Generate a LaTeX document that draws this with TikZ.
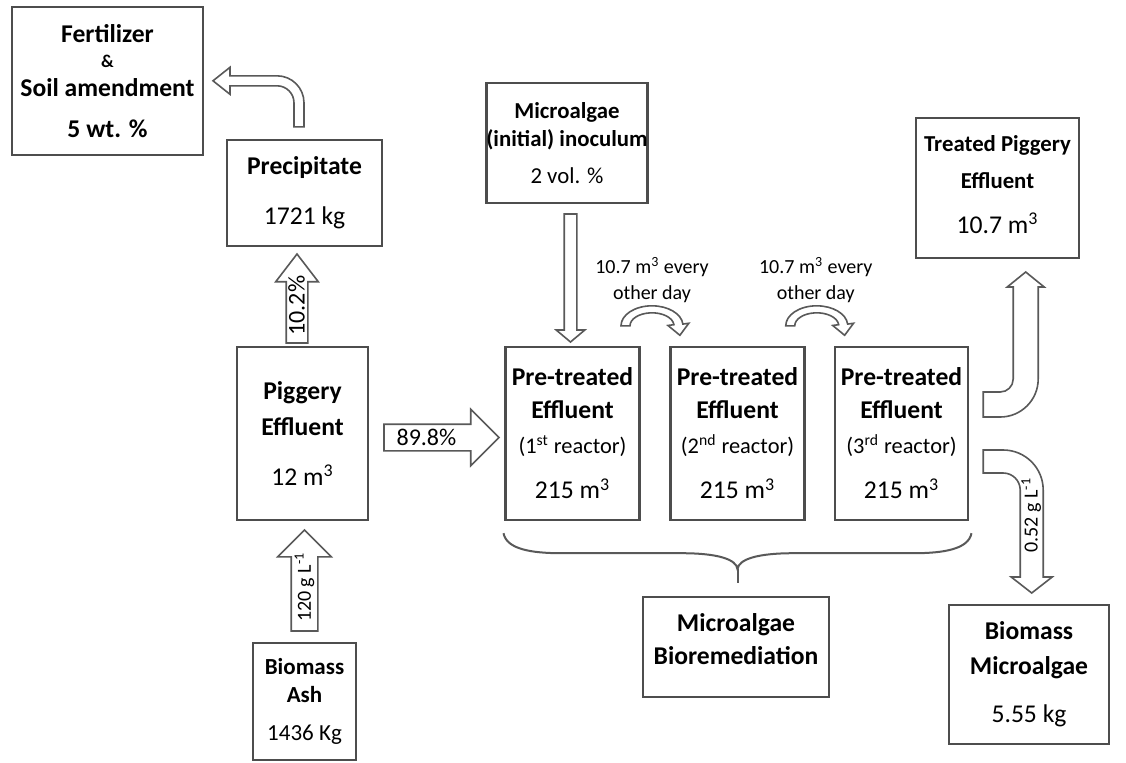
\documentclass[tikz,border=0pt]{standalone}
\usepackage{fontspec}
\setmainfont{Carlito}
\usetikzlibrary{shapes.arrows,calc}

\tikzset{every picture/.style={line width=0.75pt}}
\tikzset{
  box/.style={draw={rgb, 255:red, 77; green, 77; blue, 77}, line width=1.2pt, inner sep=0pt, align=center, font=\fontsize{12.8}{16}\selectfont},
  fat/.style={single arrow, draw={rgb, 255:red, 89; green, 89; blue, 89}, line width=0.8pt, fill=white, inner xsep=0pt, inner ysep=0pt, font=\fontsize{12}{14}\selectfont},
  bent/.style={draw={rgb, 255:red, 89; green, 89; blue, 89}, line width=0.8pt, fill=white},
  tag/.style={align=center, inner sep=0.75pt, font=\fontsize{10}{13}\selectfont}
}
\newcommand{\reactorline}[1]{{\fontsize{11.2}{16}\selectfont #1}}

\begin{document}
\begin{tikzpicture}[x=0.5pt,y=0.5pt,yscale=-1,xscale=1]
\useasboundingbox (0,0) rectangle (1126,762);
\fill [white] (0,0) rectangle (1126,762);

%Shape: Rectangle [fertilizer]
\node [box, minimum width=95.5pt, minimum height=74pt] (fert) at (107.5,81) {\textbf{Fertilizer}\\[-3.5pt]{\fontsize{9}{10}\selectfont\textbf{\&}}\\[-1.5pt]\textbf{Soil amendment}\\[4.5pt]\textbf{5 wt. \%}};
%Shape: Rectangle [precipitate]
\node [box, minimum width=77.5pt, minimum height=53pt] (prec) at (304.5,193) {\textbf{Precipitate}\\[9pt]1721 kg};
%Shape: Rectangle [piggery effluent]
\node [box, minimum width=65.5pt, minimum height=86.5pt] (pig) at (302.5,433.5) {\textbf{Piggery}\\[2pt]\textbf{Effluent}\\[9pt]12 m\textsuperscript{3}};
%Shape: Rectangle [biomass ash]
\node [box, minimum width=51.5pt, minimum height=58.5pt, font=\fontsize{11.5}{16}\selectfont] (ash) at (304.5,701.5) {\textbf{Biomass}\\[-2pt]\textbf{Ash}\\[3pt]1436 Kg};
%Shape: Rectangle [inoculum]
\node [box, minimum width=80pt, minimum height=60pt, font=\fontsize{11.4}{16}\selectfont] (inoc) at (567,143) {\textbf{Microalgae}\\[-2pt]\textbf{(initial) inoculum}\\[2.5pt]2 vol. \%};
%Shape: Rectangle [reactors]
\node [box, minimum width=67pt, minimum height=86.5pt] (r1) at (572.5,433.5) {\textbf{Pre-treated}\\[0.5pt]\textbf{Effluent}\\[1.5pt]\reactorline{(1\textsuperscript{st} reactor)}\\[6.5pt]215 m\textsuperscript{3}};
\node [box, minimum width=67pt, minimum height=86.5pt] (r2) at (737.5,433.5) {\textbf{Pre-treated}\\[0.5pt]\textbf{Effluent}\\[1.5pt]\reactorline{(2\textsuperscript{nd} reactor)}\\[6.5pt]215 m\textsuperscript{3}};
\node [box, minimum width=66.5pt, minimum height=86.5pt] (r3) at (901.5,433.5) {\textbf{Pre-treated}\\[0.5pt]\textbf{Effluent}\\[1.5pt]\reactorline{(3\textsuperscript{rd} reactor)}\\[6.5pt]215 m\textsuperscript{3}};
%Shape: Rectangle [bioremediation]
\node [box, minimum width=93pt, minimum height=50pt] (bio) at (736,647) {\textbf{Microalgae}\\[0.5pt]\textbf{Bioremediation}\\[-8pt]\mbox{}};
%Shape: Rectangle [treated effluent]
\node [box, minimum width=81.5pt, minimum height=70pt, font=\fontsize{11.4}{16}\selectfont] (treat) at (997.5,188) {\textbf{Treated Piggery}\\[2.5pt]\textbf{Effluent}\\[6.5pt]{\fontsize{12.8}{16}\selectfont 10.7 m\textsuperscript{3}}\\[-12pt]\mbox{}};
%Shape: Rectangle [biomass microalgae]
\node [box, minimum width=80pt, minimum height=69.5pt] (mass) at (1029,674.5) {\textbf{Biomass}\\[1.5pt]\textbf{Microalgae}\\[8pt]5.55 kg};

%Shape: Right Arrow [straight block arrows]
\node [fat, rotate=90, anchor=tail, minimum height=44.5pt, single arrow head extend=5.25pt, single arrow tip angle=75, text height=8.8pt, text depth=1.2pt] (split1) at ($(pig.north)+(-5.5,-2)$) {10.2\%};
\node [fat, anchor=tail, minimum height=57.5pt, single arrow head extend=7.5pt, inner ysep=6.25pt] (split2) at ($(pig.east)+(14,4)$) {};
\node [fat, rotate=90, anchor=tail, minimum height=50.5pt, single arrow head extend=6.75pt, text height=9.4pt, text depth=3.1pt, font=\fontsize{10}{12}\selectfont] (dose) at ($(ash.north)+(0,-10)$) {120 g L\textsuperscript{-1}};
\node [fat, rotate=-90, anchor=tail, minimum height=64pt, single arrow head extend=4pt, single arrow tip angle=100, text height=0pt, text depth=0pt, inner ysep=2.75pt] (feed) at ($(inoc.south)+(3.5,9)$) {};
% Text Node
\node [inner sep=0.75pt, font=\fontsize{12}{14}\selectfont] (share) at ($(split2.tail)!0.37!(split2.tip)$) {89.8\%};

%Shape: Bent Arrow [precipitate to fertilizer]
\begin{scope}[shift={(prec.north)}]
\draw [bent] (-10.5,-12) -- (-10.5,-36) arc [start angle=0, end angle=-90, radius=17] -- (-74.5,-53) -- (-74.5,-44.5) -- (-91.5,-58) -- (-74.5,-71.5) -- (-74.5,-63) -- (-27.5,-63) arc [start angle=-90, end angle=0, radius=27] -- (-0.5,-12) -- cycle;
\end{scope}

%Shape: Curved Arrow [1st to 2nd reactor]
\begin{scope}[shift={($(r1.north east)!0.5!(r2.north west)$)}]
\draw [bent] (-34,-20) arc [start angle=180, end angle=355, x radius=31, y radius=20] -- (33.83,-22.54) -- (24.87,-10.54) -- (12.97,-20.33) -- (18.92,-21.13) arc [start angle=355, end angle=180, x radius=22, y radius=13] -- cycle;
% Text Node
\node [tag] (move1) at (-3,-66) {10.7 m\textsuperscript{3} every\\other day};
\end{scope}
%Shape: Curved Arrow [2nd to 3rd reactor]
\begin{scope}[shift={($(r2.north east)!0.5!(r3.north west)$)}]
\draw [bent] (-34,-20) arc [start angle=180, end angle=355, x radius=31, y radius=20] -- (33.83,-22.54) -- (24.87,-10.54) -- (12.97,-20.33) -- (18.92,-21.13) arc [start angle=355, end angle=180, x radius=22, y radius=13] -- cycle;
% Text Node
\node [tag] (move2) at (-4,-66) {10.7 m\textsuperscript{3} every\\other day};
\end{scope}

%Shape: Bent Arrows [3rd reactor outputs]
\begin{scope}[shift={(r3.east)}]
\draw [bent] (14,-41.5) -- (31,-41.5) arc [start angle=90, end angle=0, radius=13] -- (44,-146.5) -- (38,-146.5) -- (56.5,-161.5) -- (75,-146.5) -- (69,-146.5) -- (69,-54.5) arc [start angle=0, end angle=90, radius=38] -- (14,-16.5) -- cycle;
\draw [bent] (14,16.5) -- (34,16.5) arc [start angle=-90, end angle=0, radius=40] -- (74,143.5) -- (83,143.5) -- (62.5,159.5) -- (42,143.5) -- (51,143.5) -- (51,56.5) arc [start angle=0, end angle=-90, radius=17] -- (14,39.5) -- cycle;
% Text Node
\node [rotate=90, inner sep=0pt, font=\fontsize{10}{12}\selectfont] (yield) at (62,81.5) {0.52 g L\textsuperscript{-1}};
\end{scope}

%Shape: Brace [reactors]
\begin{scope}[shift={(r2.south)}]
\draw [draw={rgb, 255:red, 89; green, 89; blue, 89}, line width=1pt] (-234,12) .. controls (-231,28) and (-206,32) .. (-176,32) -- (-56,32) .. controls (-20,32) and (-1,38) .. (0,48) .. controls (1,38) and (20,32) .. (56,32) -- (176,32) .. controls (206,32) and (231,28) .. (234,12);
\draw [draw={rgb, 255:red, 89; green, 89; blue, 89}, line width=1pt] (0,48) -- (0,62);
\end{scope}

\end{tikzpicture}
\end{document}
